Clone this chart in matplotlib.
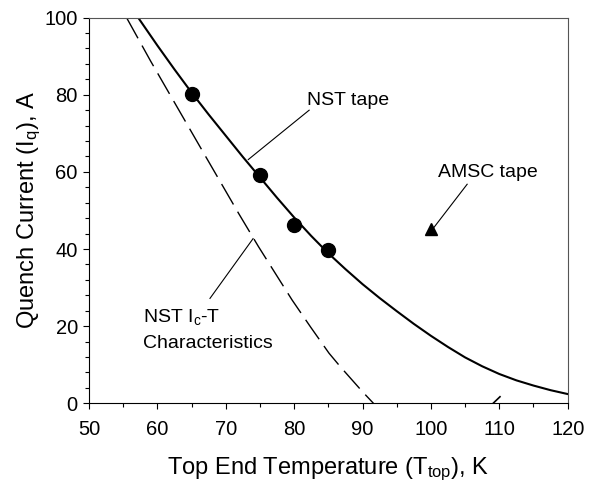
import matplotlib as mpl
mpl.use('Agg')
import matplotlib.pyplot as plt
from matplotlib.ticker import MultipleLocator

plt.rcParams['font.family'] = ['Liberation Sans', 'DejaVu Sans']
plt.rcParams['mathtext.fontset'] = 'custom'
plt.rcParams['mathtext.rm'] = 'Liberation Sans'
plt.rcParams['mathtext.it'] = 'Liberation Sans:italic'

# measured quench currents (NST tape)
t_meas = [65, 75, 80, 85]
i_meas = [80.1, 59.2, 46.2, 39.8]

# AMSC tape point
t_amsc = [100]
i_amsc = [45.2]

# fitted quench current curve
t_fit = [57.2, 60, 62.5, 65, 67.5, 70, 72.5, 75, 77.5, 80, 82.5, 85, 87.5, 90,
         92.5, 95, 97.5, 100, 102.5, 105, 107.5, 110, 112.5, 115, 117.5, 120]
i_fit = [100, 92.8, 86.6, 80.6, 74.9, 69.4, 63.9, 58.6, 53.3, 48.2, 43.4, 38.9, 34.8, 30.9,
         27.3, 23.9, 20.6, 17.5, 14.6, 11.9, 9.6, 7.6, 5.95, 4.6, 3.4, 2.4]

# NST Ic-T characteristics (dashed)
t_ic = [55.5, 59, 62.9, 67, 71.9, 74.8, 79.7, 82.4, 85.1, 86.8, 88.5, 90, 91.6]
i_ic = [100, 88.8, 76.8, 64.2, 49.2, 40.6, 26.8, 19.8, 13.0, 9.4, 6.0, 3.0, 0]

# short stub near 110 K
t_stub = [109.1, 110.1]
i_stub = [0, 1.7]

fig = plt.figure(figsize=(5.9, 4.83), dpi=100)
ax = fig.add_axes([0.1507, 0.165, 0.8115, 0.7985])

ax.plot(t_fit, i_fit, color='black', lw=1.5)
ax.plot(t_ic, i_ic, color='black', lw=1.0, dashes=(17, 6))
ax.plot(t_stub, i_stub, color='black', lw=1.2)
ax.plot(t_meas, i_meas, 'o', color='black', ms=10)
ax.plot(t_amsc, i_amsc, '^', color='black', ms=9)

# labels with leader lines
fs = 14
ax.plot([82.2, 73.3], [76.0, 63.2], color='black', lw=0.8)
ax.text(81.9, 78.6, 'NST tape', fontsize=fs, ha='left', va='center')
ax.plot([105.3, 100.4], [56.8, 45.5], color='black', lw=0.8)
ax.text(101.0, 59.9, 'AMSC tape', fontsize=fs, ha='left', va='center')
ax.plot([67.7, 74.0], [27.2, 42.7], color='black', lw=0.8)
ax.text(57.9, 22.3, 'NST I$_\\mathrm{c}$-T', fontsize=fs, ha='left', va='center')
ax.text(57.9, 15.6, 'Characteristics', fontsize=fs, ha='left', va='center')

ax.set_xlim(50, 120)
ax.set_ylim(0, 100)
ax.xaxis.set_major_locator(MultipleLocator(10))
ax.xaxis.set_minor_locator(MultipleLocator(5))
ax.yaxis.set_major_locator(MultipleLocator(20))
ax.yaxis.set_minor_locator(MultipleLocator(4))
ax.tick_params(which='both', direction='out', top=False, right=False, labelsize=14.5, width=0.8)
ax.tick_params(which='major', length=4)
ax.tick_params(which='minor', length=3)
ax.tick_params(axis='x', which='major', pad=8)
ax.tick_params(axis='y', which='major', pad=4)
for s in ax.spines.values():
    s.set_linewidth(0.8)
ax.spines['top'].set_color('#555555')
ax.spines['right'].set_color('#555555')

ax.set_xlabel('Top End Temperature (T$_\\mathrm{top}$), K', fontsize=17, labelpad=12)
ax.set_ylabel('Quench Current (I$_\\mathrm{q}$), A', fontsize=17, labelpad=1)

fig.savefig('out.png', dpi=100)
plt.close()
